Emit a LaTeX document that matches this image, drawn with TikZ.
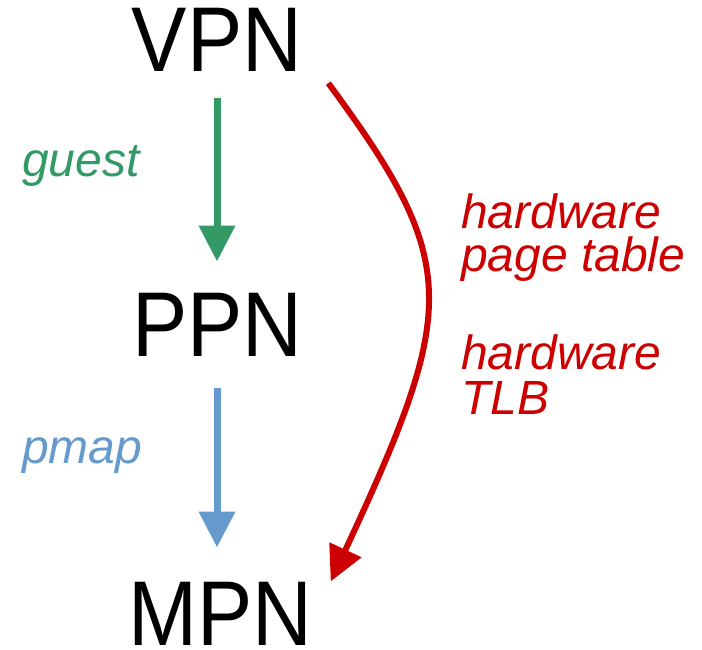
\documentclass[tikz,border=0pt]{standalone}
\usepackage{fontspec}
\setmainfont{Liberation Sans}
\newfontfamily\bigfont[FakeStretch=0.9]{Liberation Sans}
\usepackage{tikz}
\usetikzlibrary{arrows.meta}
\definecolor{guestgreen}{RGB}{51,153,102}
\definecolor{pmapblue}{RGB}{102,153,204}
\definecolor{hwred}{RGB}{204,0,0}
\tikzset{
  pagenum/.style={inner sep=0pt,anchor=base,font=\bigfont\fontsize{92}{92}\selectfont},
  maplabel/.style={inner sep=0pt,anchor=base west,font=\itshape\fontsize{48}{48}\selectfont},
  maparrow/.style={line width=7pt,-{Triangle[length=36pt,width=35pt]}}
}

\begin{document}
\begin{tikzpicture}[x=1pt,y=1pt]
    \useasboundingbox (0,0) rectangle (702,649);
    \node[pagenum] (vpn) at (217,577) {VPN};
    \node[pagenum] (ppn) at (217.5,292) {PPN};
    \node[pagenum] (mpn) at (220.5,4) {MPN};
    \draw[maparrow,guestgreen] ([yshift=-26pt]vpn.south) -- ([yshift=32pt]vpn.south |- ppn.north);
    \draw[maparrow,pmapblue] ([yshift=-31pt]vpn.south |- ppn.south) -- ([yshift=34pt]vpn.south |- mpn.north);
    \node[maplabel,text=guestgreen] (guest) at (22,472) {guest};
    \node[maplabel,text=pmapblue] (pmap) at (22,186) {pmap};
    \draw[hwred,line width=6pt,-{Triangle[length=35pt,width=34pt]}]
        ([shift={(26pt,-11pt)}]vpn.south east) .. controls (461,386) and (458.5,342) .. ([shift={(18pt,0pt)}]mpn.north east);
    \node[maplabel,text=hwred] (hw1) at (461,420) {hardware};
    \node[maplabel,text=hwred] (pt) at (461,377) {page table};
    \node[maplabel,text=hwred] (hw2) at (461,279) {hardware};
    \node[maplabel,text=hwred] (tlb) at (461,234) {TLB};
\end{tikzpicture}
\end{document}
